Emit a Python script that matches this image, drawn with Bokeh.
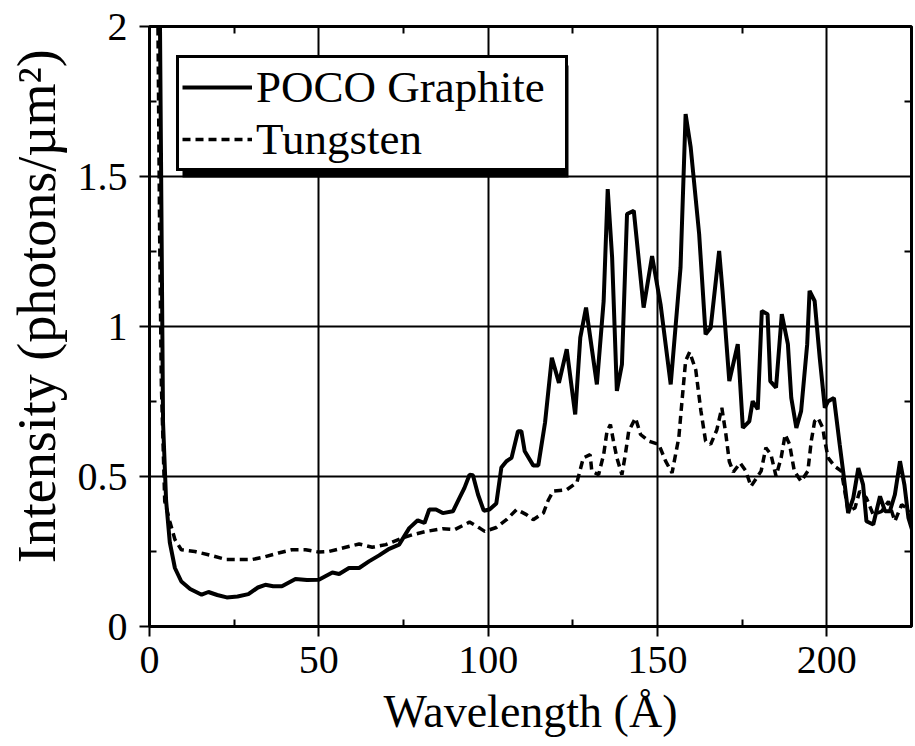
from bokeh.plotting import figure
from bokeh.models import (Range1d, LinearAxis, FixedTicker, Legend, LegendItem,
                          BoxAnnotation, ColumnDataSource)
from bokeh.embed import file_html
from bokeh.resources import INLINE

# ---- data ----
poco_x = [2.6, 3.1, 4.0, 4.9, 6.0, 7.5, 9.4, 12, 15.4, 17.4, 20, 22.8, 26, 29.2, 32, 34.2, 36.5,
          39.1, 43.1, 46.5, 50, 54, 56, 58.9, 61.9, 64.8, 67.8, 70.8, 73.7, 76.7, 79.2, 81.2,
          82.6, 84.6, 86.6, 89.6, 91.5, 93, 94.5, 95.5, 97, 98.7, 100.4, 102.4, 103.9, 105.4,
          106.9, 108.8, 109.8, 110.8, 113.3, 114.8, 116.8, 118.8, 120.9, 123.2, 125.7, 127.2,
          128.9, 132.1, 134.1, 135.3, 136.6, 138, 139.5, 141, 143, 145.9, 148.4, 150.9, 153.9,
          156.8, 158.3, 159.8, 162.3, 164.2, 165.7, 168.2, 169.2, 171.2, 173.7, 175.2, 177.1,
          178.1, 179.6, 180.8, 182.5, 183.3, 185, 186.7, 188.5, 189.5, 191, 192.4, 194.2, 194.9,
          196.4, 197.9, 199.4, 200.4, 202.1, 203.8, 204.8, 206.3, 207.8, 209.3, 210.7, 211.7,
          213.7, 215.7, 217.2, 218.6, 220.1, 221.6, 222.9, 224.1, 225.6]
poco_y = [2.3, 2.0, 0.68, 0.42, 0.28, 0.195, 0.15, 0.125, 0.106, 0.115, 0.105, 0.097, 0.1, 0.108,
          0.13, 0.139, 0.134, 0.134, 0.158, 0.155, 0.156, 0.18, 0.175, 0.195, 0.195, 0.217, 0.237,
          0.259, 0.273, 0.328, 0.354, 0.345, 0.39, 0.39, 0.378, 0.384, 0.428, 0.462, 0.506, 0.504,
          0.44, 0.386, 0.39, 0.41, 0.53, 0.551, 0.562, 0.651, 0.651, 0.584, 0.537, 0.537, 0.68,
          0.896, 0.812, 0.924, 0.707, 0.963, 1.063, 0.807, 1.085, 1.458, 1.23, 0.785, 0.874,
          1.375, 1.386, 1.063, 1.235, 1.074, 0.807, 1.196, 1.708, 1.597, 1.308, 0.974, 0.996,
          1.252, 1.119, 0.818, 0.941, 0.662, 0.684, 0.751, 0.724, 1.052, 1.041, 0.818, 0.796,
          1.041, 0.941, 0.762, 0.662, 0.718, 0.941, 1.119, 1.085, 0.896, 0.729, 0.751, 0.762,
          0.607, 0.518, 0.378, 0.428, 0.528, 0.473, 0.351, 0.34, 0.434, 0.384, 0.384, 0.44,
          0.551, 0.473, 0.362, 0.306]

tung_x = [2.3, 2.5, 3.0, 3.5, 4.5, 6, 7.5, 9.4, 13.4, 17.4, 22.8, 30.2, 34, 38.1, 42.1, 46.1, 50,
          53, 57.9, 61.9, 65.8, 69.8, 74.2, 77.7, 81.7, 86.6, 90.1, 94.5, 97.5, 99, 102.4, 105.4,
          108.4, 111.3, 113.3, 116.3, 117.7, 119.2, 123.2, 126.2, 128.1, 130.1, 130.6, 132.6,
          134.1, 135.1, 136.1, 137, 138, 139.5, 140.5, 141.5, 143.5, 145, 147.4, 150.4, 152.4,
          154.3, 156.3, 157.3, 158.3, 159.5, 161.3, 162.8, 164.2, 165.7, 167.5, 169, 170.2,
          171.2, 172.4, 174.4, 176.1, 177.6, 180.6, 182, 183.5, 185, 186.5, 187.7, 189, 190.4,
          192.4, 194.4, 195.4, 196.4, 197.4, 198.8, 199.4, 200.4, 202.3, 204.3, 206.3, 208.3,
          209.7, 211.7, 213.7, 216.2, 218.2, 220.1, 222.1, 225, 226]
tung_y = [2.3, 2.0, 1.3, 0.807, 0.417, 0.35, 0.29, 0.256, 0.25, 0.239, 0.223, 0.223, 0.232, 0.245,
          0.256, 0.256, 0.248, 0.25, 0.264, 0.275, 0.264, 0.273, 0.293, 0.306, 0.317, 0.326,
          0.323, 0.348, 0.328, 0.317, 0.33, 0.356, 0.39, 0.373, 0.356, 0.378, 0.42, 0.451, 0.456,
          0.48, 0.562, 0.573, 0.518, 0.506, 0.573, 0.651, 0.673, 0.618, 0.562, 0.506, 0.573,
          0.651, 0.695, 0.64, 0.618, 0.607, 0.551, 0.512, 0.63, 0.76, 0.885, 0.915, 0.855, 0.72,
          0.618, 0.607, 0.655, 0.729, 0.64, 0.55, 0.515, 0.545, 0.518, 0.467, 0.518, 0.596,
          0.573, 0.501, 0.562, 0.64, 0.607, 0.518, 0.484, 0.518, 0.618, 0.684, 0.695, 0.662,
          0.618, 0.562, 0.534, 0.518, 0.384, 0.395, 0.451, 0.428, 0.373, 0.384, 0.417, 0.351,
          0.406, 0.384, 0.36]

series_labels = ["POCO Graphite", "Tungsten"]
x_ticks = [0, 50, 100, 150, 200]
x_minor = [25, 75, 125, 175, 225]
y_ticks = [0, 0.5, 1, 1.5, 2]
y_minor = [0.25, 0.75, 1.25, 1.75]
y_tick_labels = ["0", "0.5", "1", "1.5", "2"]
x_label = "Wavelength (Å)"
y_label = "\u00a0\u00a0\u00a0Intensity (photons/µm²)"

FONT = "Liberation Serif"

p = figure(width=913, height=740, output_backend="svg", toolbar_location=None,
           x_range=Range1d(0, 225), y_range=Range1d(0, 2),
           min_border_left=149, min_border_top=26, min_border_right=2, min_border_bottom=114)
p.background_fill_color = "white"
p.border_fill_color = "white"
p.outline_line_color = "black"
p.outline_line_width = 3

xt = FixedTicker(ticks=x_ticks, minor_ticks=x_minor)
yt = FixedTicker(ticks=y_ticks, minor_ticks=y_minor)

for ax in p.xaxis:
    ax.ticker = xt
for ax in p.yaxis:
    ax.ticker = yt
p.yaxis.major_label_overrides = {t: s for t, s in zip(y_ticks, y_tick_labels)}

for ax in list(p.xaxis) + list(p.yaxis):
    ax.axis_line_width = 3
    ax.major_tick_line_width = 2
    ax.minor_tick_line_width = 2
    ax.major_tick_out = 10
    ax.major_tick_in = 0
    ax.minor_tick_in = 7
    ax.minor_tick_out = 0
    ax.major_label_text_font = FONT
    ax.major_label_text_font_size = "40px"
    ax.major_label_text_color = "black"
    ax.axis_label_text_font = FONT
    ax.axis_label_text_font_style = "normal"
    ax.axis_label_text_color = "black"
p.xaxis.axis_label = x_label
p.yaxis.axis_label = y_label
p.xaxis.axis_label_text_font_size = "46px"
p.yaxis.axis_label_text_font_size = "54px"
p.xaxis.major_label_standoff = 10
p.yaxis.major_label_standoff = 12
p.xaxis.axis_label_standoff = 10
p.yaxis.axis_label_standoff = 8

# mirror axes (minor ticks only) on top and right
top_ax = LinearAxis(ticker=xt, major_label_overrides={t: "" for t in x_ticks},
                    major_label_text_font_size="1px", major_tick_out=0,
                    major_tick_in=0, minor_tick_in=7, minor_tick_out=0,
                    minor_tick_line_width=2, axis_line_color=None, major_label_standoff=0)
right_ax = LinearAxis(ticker=yt, major_label_overrides={t: "" for t in y_ticks},
                      major_label_text_font_size="1px", major_tick_out=0,
                      major_tick_in=0, minor_tick_in=7, minor_tick_out=0,
                      minor_tick_line_width=2, axis_line_color=None, major_label_standoff=0)
p.add_layout(top_ax, "above")
p.add_layout(right_ax, "right")

p.xgrid.ticker = xt
p.ygrid.ticker = yt
for g in (p.xgrid, p.ygrid):
    g.grid_line_color = "black"
    g.grid_line_width = 2
    g.grid_line_alpha = 1

src_poco = ColumnDataSource(dict(x=poco_x, y=poco_y))
src_tung = ColumnDataSource(dict(x=tung_x, y=tung_y))
r_tung = p.line("x", "y", source=src_tung, line_color="black", line_width=3.5,
                line_dash="8 5")
r_poco = p.line("x", "y", source=src_poco, line_color="black", line_width=4)

# legend (frame-relative screen units, y measured up from the frame bottom)
PAD, GLYPH_W, STANDOFF, LABEL_W, ROW_H = 3, 70, 4, 306, 53
LEG_W = 2 * PAD + GLYPH_W + STANDOFF + LABEL_W
LEG_H = 2 * PAD + 2 * ROW_H
LEG_L, LEG_B = 27, 455
SH = 6
shadow = BoxAnnotation(left=LEG_L + SH, right=LEG_L + LEG_W + SH,
                       top=LEG_B + LEG_H - SH, bottom=LEG_B - SH,
                       left_units="screen", right_units="screen",
                       top_units="screen", bottom_units="screen",
                       fill_color="black", fill_alpha=1, line_color=None)
p.add_layout(shadow)

legend = Legend(items=[LegendItem(label=series_labels[0], renderers=[r_poco]),
                       LegendItem(label=series_labels[1], renderers=[r_tung])],
                location=(LEG_L, LEG_B), label_text_font=FONT, label_text_font_size="45px",
                label_text_color="black", glyph_width=GLYPH_W, glyph_height=30,
                label_standoff=STANDOFF, label_width=LABEL_W, label_height=40,
                padding=PAD, spacing=0, margin=0,
                border_line_color="black", border_line_width=3, border_line_alpha=1,
                background_fill_color="white", background_fill_alpha=1)
p.add_layout(legend, "center")

open("out.html", "w").write(file_html(p, INLINE))
